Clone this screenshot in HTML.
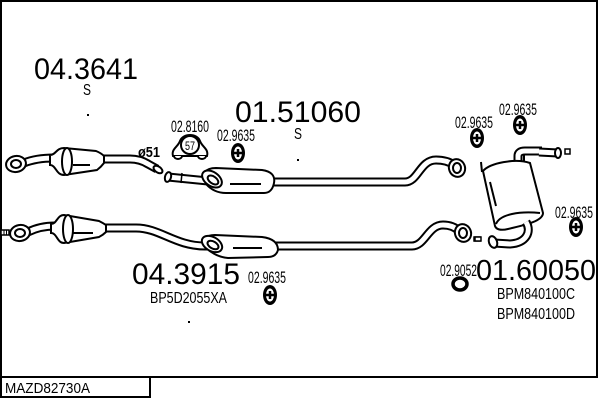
<!DOCTYPE html>
<html><head><meta charset="utf-8"><style>
html,body{margin:0;padding:0;background:#fff;}
svg{display:block;}
text{font-family:"Liberation Sans",Arial,sans-serif;fill:#000;}
.o{fill:none;stroke:#000;stroke-width:9;}
.i{fill:none;stroke:#fff;stroke-width:5;}
.s{fill:#fff;stroke:#000;stroke-width:2;}
.l{fill:none;stroke:#000;stroke-width:2;}
</style></head><body>
<svg width="600" height="400" viewBox="0 0 600 400" xmlns="http://www.w3.org/2000/svg">
<rect x="0" y="0" width="600" height="400" fill="#fff"/>
<rect x="1" y="1" width="596" height="376" fill="none" stroke="#000" stroke-width="2"/>
<rect x="1" y="377" width="149" height="20" fill="none" stroke="#000" stroke-width="2"/>
<text x="5" y="393" font-size="14.5" textLength="85" lengthAdjust="spacingAndGlyphs">MAZD82730A</text>

<!-- big labels -->
<text x="34" y="79" font-size="30" textLength="104" lengthAdjust="spacingAndGlyphs">04.3641</text>
<text x="83" y="95" font-size="16" textLength="8" lengthAdjust="spacingAndGlyphs">S</text>
<text x="235" y="122" font-size="30" textLength="126" lengthAdjust="spacingAndGlyphs">01.51060</text>
<text x="294" y="139" font-size="16" textLength="8" lengthAdjust="spacingAndGlyphs">S</text>
<text x="132" y="284" font-size="30" textLength="108" lengthAdjust="spacingAndGlyphs">04.3915</text>
<text x="150" y="303" font-size="16" textLength="77" lengthAdjust="spacingAndGlyphs">BP5D2055XA</text>
<text x="440" y="276" font-size="17" textLength="37" lengthAdjust="spacingAndGlyphs">02.9052</text>
<text x="476" y="280" font-size="29" textLength="120" lengthAdjust="spacingAndGlyphs">01.60050</text>
<text x="497" y="299" font-size="16" textLength="78" lengthAdjust="spacingAndGlyphs">BPM840100C</text>
<text x="497" y="319" font-size="16" textLength="78" lengthAdjust="spacingAndGlyphs">BPM840100D</text>

<!-- small labels -->
<text x="171" y="132" font-size="17" textLength="38" lengthAdjust="spacingAndGlyphs">02.8160</text>
<text x="217" y="141" font-size="17" textLength="38" lengthAdjust="spacingAndGlyphs">02.9635</text>
<text x="455" y="128" font-size="17" textLength="38" lengthAdjust="spacingAndGlyphs">02.9635</text>
<text x="499" y="115" font-size="17" textLength="38" lengthAdjust="spacingAndGlyphs">02.9635</text>
<text x="555" y="218" font-size="17" textLength="38" lengthAdjust="spacingAndGlyphs">02.9635</text>
<text x="248" y="283" font-size="17" textLength="38" lengthAdjust="spacingAndGlyphs">02.9635</text>
<text x="138" y="157" font-size="15" font-weight="bold" textLength="22" lengthAdjust="spacingAndGlyphs">ø51</text>

<!-- dots -->
<rect x="87" y="114" width="2" height="2" fill="#000"/>
<rect x="188" y="321" width="2" height="2" fill="#000"/>
<rect x="297" y="159" width="2" height="2" fill="#000"/>

<!-- ===== Upper front pipe 04.3641 ===== -->
<path class="o" d="M24,163 Q36,158 54,158"/><path class="i" d="M24,163 Q36,158 54,158"/>
<path class="o" d="M102,159 L130,159 Q140,159 148,164 L157,169"/><path class="i" d="M102,159 L130,159 Q140,159 148,164 L157,169"/>
<path class="s" d="M50,155 C56,155 56,148 64,148 L96,151 Q101,153 104,156 L104,163 Q101,167 97,170 L64,175 C56,175 56,165 50,165 Z"/>
<ellipse class="s" cx="67" cy="161.5" rx="5" ry="13.5"/>
<path class="l" d="M73,165 L90,165"/>
<ellipse class="s" cx="158" cy="169.5" rx="3" ry="5" transform="rotate(-55 158 169.5)"/>
<ellipse class="s" cx="16" cy="164" rx="10" ry="8" transform="rotate(-10 16 164)"/>
<ellipse class="s" cx="16" cy="164" rx="5" ry="4"/>

<!-- ===== Lower front pipe 04.3915 ===== -->
<rect x="1" y="230" width="8" height="5" fill="#fff" stroke="#000" stroke-width="1.5"/>
<path d="M4,230 V235 M6.5,230 V235" stroke="#000" stroke-width="1"/>
<path class="o" d="M28,232 Q40,226 55,226"/><path class="i" d="M28,232 Q40,226 55,226"/>
<path class="o" d="M104,228 L136,228 C160,228 175,246 205,246 L412,246 C425,246 428,225 443,225 Q453,225 459,231"/>
<path class="i" d="M104,228 L136,228 C160,228 175,246 205,246 L412,246 C425,246 428,225 443,225 Q453,225 459,231"/>
<path class="s" d="M51,224 C57,224 57,215 64,215 L99,221 Q103,223 106,225 L106,232 Q103,235 99,237 L64,243 C57,243 57,233 51,233 Z"/>
<ellipse class="s" cx="68" cy="229" rx="5" ry="14"/>
<path class="l" d="M73,233 L93,233"/>
<ellipse class="s" cx="20" cy="233" rx="10" ry="8" transform="rotate(-10 20 233)"/>
<ellipse class="s" cx="20" cy="233" rx="5" ry="4"/>
<!-- lower middle muffler -->
<path class="s" d="M205,238 Q208,235 215,235 L262,237 Q278,239 278,250 Q276,257 268,257 L228,258 Q216,257 206,248 Z"/>
<ellipse class="s" cx="212" cy="244" rx="11" ry="7" transform="rotate(30 212 244)"/>
<ellipse class="s" cx="213" cy="245" rx="6" ry="3.5" transform="rotate(30 213 245)"/>
<path class="l" d="M233,248 L262,248"/>
<ellipse class="s" cx="463" cy="233" rx="8" ry="9" transform="rotate(-20 463 233)"/>
<ellipse class="s" cx="463" cy="233" rx="4" ry="5"/>
<rect x="474" y="237" width="6" height="4" fill="#fff" stroke="#000" stroke-width="1.5"/>

<!-- ===== Upper middle 01.51060 ===== -->
<path class="o" d="M168,177 L208,181"/><path class="i" d="M168,177 L208,181"/>
<path d="M182,173 L181,183" stroke="#000" stroke-width="1.5"/>
<path class="o" d="M272,182 L405,182 C418,182 420,160 436,160 Q447,160 454,165"/>
<path class="i" d="M272,182 L405,182 C418,182 420,160 436,160 Q447,160 454,165"/>
<path class="s" d="M205,172 Q208,168 216,168 L262,170 Q276,172 274,183 Q272,193 264,193 L226,193 Q214,193 206,184 Z"/>
<ellipse class="s" cx="212" cy="179" rx="11" ry="7" transform="rotate(35 212 179)"/>
<ellipse class="s" cx="213" cy="180" rx="6" ry="3.5" transform="rotate(35 213 180)"/>
<path class="l" d="M230,184 L261,184"/>
<ellipse class="s" cx="168" cy="177" rx="3" ry="5" transform="rotate(15 168 177)"/>
<ellipse class="s" cx="457" cy="168" rx="8" ry="9" transform="rotate(-20 457 168)"/>
<ellipse class="s" cx="457" cy="168" rx="4" ry="5"/>

<!-- ===== Rear muffler 01.60050 ===== -->
<path class="o" d="M518,164 L518,156 Q518,151 525,151 L542,151"/><path class="i" d="M518,164 L518,156 Q518,151 525,151 L542,151"/>
<path class="o" d="M539,152 L558,153" stroke-width="10"/><path class="i" d="M539,152 L558,153" stroke-width="6"/>
<ellipse class="s" cx="558" cy="153" rx="3" ry="5"/>
<rect x="565" y="149" width="5" height="5" fill="#fff" stroke="#000" stroke-width="1.5"/>
<path d="M482,172 L481,162 M524,162 L524,154" stroke="#000" stroke-width="2"/>
<path class="s" d="M483,171 C490,163 515,158 530,163 L543,213 C543,222 520,226 508,229 C500,231 496,229 495,226 Z"/>
<path class="l" d="M490,182 L496,206"/>
<path class="l" d="M496,224 C500,214 520,211 540,213"/>
<path class="o" d="M526,222 C532,232 526,243 510,244 L494,243"/><path class="i" d="M526,222 C532,232 526,243 510,244 L494,243"/>
<ellipse class="s" cx="493" cy="242" rx="4" ry="6" transform="rotate(-20 493 242)"/>
<rect x="475" y="237" width="6" height="4" fill="#fff" stroke="#000" stroke-width="1.5"/>

<!-- clamp 02.8160 -->
<path class="s" d="M173,156 C171,149 178,147 180,141 C183,133 197,133 200,141 C202,147 209,149 207,156 Z"/>
<path class="s" d="M174,156 A4,3 0 0 0 182,156 M198,156 A4,3 0 0 0 206,156"/>
<circle class="s" cx="190" cy="145" r="9"/>
<text x="185" y="150" font-size="12" textLength="10" lengthAdjust="spacingAndGlyphs">57</text>

<!-- hangers 02.9635 -->
<g>
<ellipse cx="238" cy="153" rx="7" ry="10" fill="#000"/><ellipse cx="238" cy="153" rx="4" ry="6.5" fill="#fff"/><path d="M234,153 H242 M238,149 V157" stroke="#000" stroke-width="2.5"/>
<ellipse cx="477" cy="138" rx="7" ry="10" fill="#000"/><ellipse cx="477" cy="138" rx="4" ry="6.5" fill="#fff"/><path d="M473,138 H481 M477,134 V142" stroke="#000" stroke-width="2.5"/>
<ellipse cx="520" cy="125" rx="7" ry="10" fill="#000"/><ellipse cx="520" cy="125" rx="4" ry="6.5" fill="#fff"/><path d="M516,125 H524 M520,121 V129" stroke="#000" stroke-width="2.5"/>
<ellipse cx="576" cy="227" rx="7" ry="10" fill="#000"/><ellipse cx="576" cy="227" rx="4" ry="6.5" fill="#fff"/><path d="M572,227 H580 M576,223 V231" stroke="#000" stroke-width="2.5"/>
<ellipse cx="270" cy="295" rx="7" ry="10" fill="#000"/><ellipse cx="270" cy="295" rx="4" ry="6.5" fill="#fff"/><path d="M266,295 H274 M270,291 V299" stroke="#000" stroke-width="2.5"/>
</g>
<!-- ring 02.9052 -->
<ellipse cx="460" cy="284" rx="7" ry="6" fill="none" stroke="#000" stroke-width="3.5"/>
</svg>
</body></html>
